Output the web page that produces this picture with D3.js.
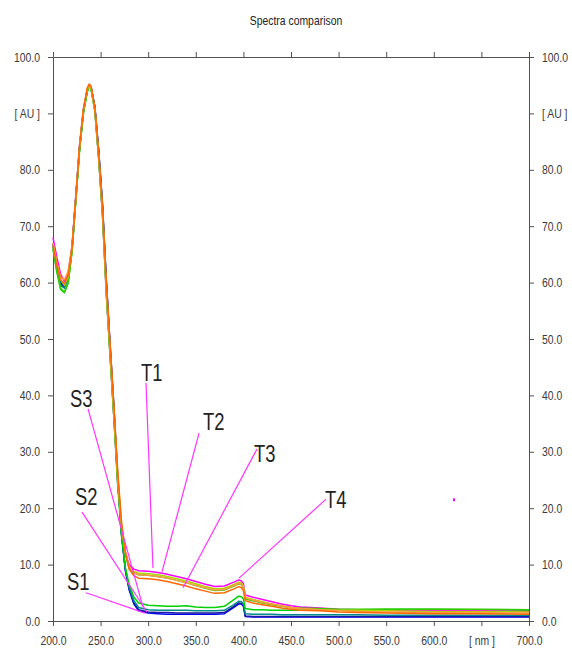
<!DOCTYPE html>
<html>
<head>
<meta charset="utf-8">
<script src="https://cdn.jsdelivr.net/npm/d3@7"></script>
<style>
	body { margin: 0; background: #fff; }
	svg text { font-family: "Liberation Sans Narrow", "Arial Narrow", "Liberation Sans", Arial, sans-serif; }
	.tick-label { font-size: 13px; fill: #3a3a3a; }
	.peak-label { font-size: 23px; fill: #222; }
</style>
</head>
<body>
<div id="chart"></div>
<script>
// wavelengths [nm] shared by all spectra
let wavelengths	= [200,204,208,212,216,220,224,228,232,236,238,240,244,248,252,256,260,264,268,272,276,280,285,290,300,310,320,330,340,350,360,370,380,390,395,398,400,402,410,420,430,440,450,460,480,500,520,550,600,650,700];

let seriesNames	= ["S1", "S1b", "S2", "S3", "T1", "T3", "T2", "T4b", "T4"];
let seriesColors	= ["#0000ff", "#1a1aa0", "#008b8b", "#00d000", "#ff00ff", "#33cc00", "#a8d800", "#ff9944", "#ff6600"];

let s1	= [67,63,60,59.5,61,66.3,75.3,84.3,90.6,94.2,95,94.7,91.2,83.5,74,60.5,49,38,25.5,15.5,9,5.5,3.0,1.8,1.4,1.3,1.2,1.2,1.2,1.2,1.2,1.2,1.3,2.4,3.0,3.0,2.6,0.8,0.7,0.7,0.7,0.7,0.7,0.7,0.7,0.7,0.7,0.7,0.7,0.7,0.7];
let s1b	= [66.8,62.8,59.8,59.2,60.8,66,75,84,90.4,94,94.9,94.6,91,83.2,73.5,60,48.5,37.5,25.2,15.3,9.1,5.7,3.2,2.0,1.6,1.5,1.5,1.4,1.4,1.4,1.4,1.4,1.5,2.6,3.2,3.1,2.8,0.9,0.8,0.8,0.8,0.8,0.8,0.8,0.8,0.8,0.8,0.8,0.8,0.8,0.8];
let s2	= [66.5,62.5,59.5,59,60.8,66,75,84,90.5,94,94.9,94.5,90.8,82.8,73,59.5,48,37,25,15.5,9.3,6,3.6,2.4,2.0,1.9,1.9,1.9,1.9,1.8,1.8,1.8,1.9,2.9,3.5,3.4,3.0,1.3,1.2,1.2,1.2,1.1,1.1,1.1,1.1,1.1,1.1,1.0,1.0,1.0,1.0];
let s3	= [66,62,58.8,58.2,60,65.5,74.5,83.5,90,93.8,94.8,94.3,90.5,82,72.2,58.5,47,36,24,15,9.5,6.5,4.2,3.2,2.8,2.7,2.6,2.6,2.7,2.5,2.4,2.4,2.6,3.8,4.4,4.3,3.9,2.2,2.0,2.0,1.9,1.9,1.9,1.9,2.0,2.0,2.0,2.1,2.1,2.0,1.9];
let t1	= [68,64.5,61.5,60.2,61.8,66.5,75.5,84.5,90.8,94.3,95,94.5,90.5,82,72,58,47,36,24.5,16.5,12.2,10,9.2,8.9,8.8,8.6,8.3,7.9,7.5,7.0,6.5,6.1,6.2,6.9,7.3,7.1,6.6,4.6,4.2,3.8,3.4,3.0,2.7,2.5,2.3,2.1,2.0,1.9,1.8,1.8,1.7];
let t3	= [66,62,59,58.3,60,65.5,74.8,84,90.4,94,94.8,94.3,90.4,82,72,58,47,36,24.5,16.3,11.8,9.3,8.5,8.2,8.1,7.9,7.6,7.2,6.8,6.3,5.8,5.4,5.5,6.2,6.6,6.4,5.9,3.9,3.6,3.2,2.9,2.6,2.4,2.3,2.2,2.1,2.1,2.1,2.1,2.1,2.0];
let t2	= [67,63.5,60.5,59.5,61,66,75,84.2,90.6,94.2,94.9,94.4,90.6,82.3,72.5,58.5,47.5,36.5,25,16.8,12,9.6,8.8,8.5,8.4,8.2,7.9,7.5,7.1,6.6,6.1,5.7,5.8,6.5,6.9,6.7,6.2,4.2,3.8,3.4,3.0,2.7,2.4,2.2,2.0,1.9,1.9,1.8,1.7,1.7,1.6];
let t4b	= [67,63.5,61,60.5,62,66.5,75.3,84.5,90.8,94.5,95.1,94.7,90.8,82.8,73,59.5,48.5,37.5,26,17.2,12.2,9.6,8.6,8.2,8.1,7.9,7.6,7.2,6.8,6.3,5.9,5.5,5.6,6.3,6.7,6.5,6.0,4.1,3.7,3.3,3.0,2.7,2.4,2.2,2.0,1.8,1.7,1.6,1.5,1.5,1.4];
let t4	= [66.5,63,60.5,59.8,61.3,66,75,84.3,90.7,94.5,95.2,94.8,91,83,73.5,60,49,38,26.5,17.5,12.2,9.2,8.0,7.6,7.5,7.3,7.0,6.6,6.2,5.7,5.3,4.9,5.0,5.7,6.1,5.9,5.4,3.6,3.2,2.9,2.6,2.3,2.1,1.9,1.8,1.6,1.5,1.4,1.3,1.3,1.2];
let seriesValues	= [s1, s1b, s2, s3, t1, t3, t2, t4b, t4];

// axis ticks
let xTicks	= [200,250,300,350,400,450,500,550,600,650,700];
let xTickLabels	= ["200.0","250.0","300.0","350.0","400.0","450.0","500.0","550.0","600.0","[ nm ]","700.0"];
let yTicks	= [0,10,20,30,40,50,60,70,80,90,100];
let yTickLabels	= ["0.0","10.0","20.0","30.0","40.0","50.0","60.0","70.0","80.0","[ AU ]","100.0"];

// peak annotations, in data units [nm, AU]
let labelNames	= ["T1", "T2", "T3", "T4", "S3", "S2", "S1"];
let labelAt	= [[292.4,42.5],[357.6,33.9],[411.1,28.2],[485.7,20.0],[217.9,37.9],[223.1,20.6],[214.7,5.5]];
let leaderFrom	= [[297.7,42.2],[353.4,33.3],[414.3,30.5],[486.8,21.6],[236.8,37.6],[230.5,19.3],[234.7,5.0]];
let leaderTo	= [[305.0,9.4],[314.5,8.7],[336.6,5.9],[395.4,7.6],[294.5,2.5],[298.7,1.6],[296.6,1.4]];
let strayMark	= [621.2, 21.5];

let canvasWidth		= 572;
let canvasHeight	= 654;
let margin			= { top: 57, right: 43, bottom: 33, left: 53 };
let width			= canvasWidth - margin.left - margin.right;
let height			= canvasHeight - margin.top - margin.bottom;

let x	= d3.scaleLinear().domain([200, 700]).range([0, width]);
let y	= d3.scaleLinear().domain([0, 100]).range([height, 0]);

let svg = d3.select("#chart").append("svg")
	.attr("width", canvasWidth)
	.attr("height", canvasHeight);

svg.append("text")
	.attr("x", 296)
	.attr("y", 25)
	.attr("text-anchor", "middle")
	.style("font-size", "13px")
	.style("fill", "#222")
	.text("Spectra comparison");

let g = svg.append("g")
	.attr("transform", "translate(" + margin.left + "," + margin.top + ")");

let axisColor = "#505050";

function styleAxis(sel, labels) {
	sel.select(".domain").attr("stroke", axisColor);
	sel.selectAll(".tick line").attr("stroke", axisColor);
	sel.selectAll(".tick text")
		.attr("class", "tick-label")
		.text((d, i) => labels[i]);
}

g.append("g")
	.attr("transform", "translate(0," + height + ")")
	.call(d3.axisBottom(x).tickValues(xTicks).tickSize(5).tickSizeOuter(0).tickPadding(10))
	.call(styleAxis, xTickLabels)
	.attr("font-family", null);

g.append("g")
	.call(d3.axisTop(x).tickValues(xTicks).tickSize(5).tickSizeOuter(0).tickFormat(""))
	.call(styleAxis, xTicks.map(() => ""));

g.append("g")
	.call(d3.axisLeft(y).tickValues(yTicks).tickSize(5).tickSizeOuter(0).tickPadding(8))
	.call(styleAxis, yTickLabels)
	.attr("font-family", null);

g.append("g")
	.attr("transform", "translate(" + width + ",0)")
	.call(d3.axisRight(y).tickValues(yTicks).tickSize(5).tickSizeOuter(0).tickPadding(8))
	.call(styleAxis, yTickLabels)
	.attr("font-family", null);

g.selectAll(".tick-label").style("font-size", "13px");

let line = d3.line()
	.x((d, i) => x(wavelengths[i]))
	.y((d) => y(d));

g.append("g")
	.attr("id", "spectra")
	.selectAll("path")
	.data(seriesValues)
	.enter().append("path")
		.attr("d", (d) => line(d))
		.attr("fill", "none")
		.attr("stroke", (d, i) => seriesColors[i])
		.attr("stroke-width", 1.5)
		.attr("stroke-linejoin", "round");

let notes = g.append("g").attr("id", "notes");

notes.selectAll("line")
	.data(labelNames)
	.enter().append("line")
		.attr("x1", (d, i) => x(leaderFrom[i][0]))
		.attr("y1", (d, i) => y(leaderFrom[i][1]))
		.attr("x2", (d, i) => x(leaderTo[i][0]))
		.attr("y2", (d, i) => y(leaderTo[i][1]))
		.attr("stroke", "#ff33ff")
		.attr("stroke-width", 1.2);

notes.selectAll("text")
	.data(labelNames)
	.enter().append("text")
		.attr("class", "peak-label")
		.attr("x", (d, i) => x(labelAt[i][0]))
		.attr("y", (d, i) => y(labelAt[i][1]))
		.text((d) => d);

notes.append("rect")
	.attr("x", x(strayMark[0]) - 1)
	.attr("y", y(strayMark[1]) - 1.5)
	.attr("width", 2)
	.attr("height", 3)
	.attr("fill", "#ff00ff");

// no narrow face installed: squeeze every text horizontally round its anchor
svg.selectAll("text").each(function() {
	let ax = +d3.select(this).attr("x") || 0;
	d3.select(this)
		.attr("transform", "translate(" + ax + ",0) scale(0.8,1) translate(" + (-ax) + ",0)");
});
</script>
</body>
</html>
